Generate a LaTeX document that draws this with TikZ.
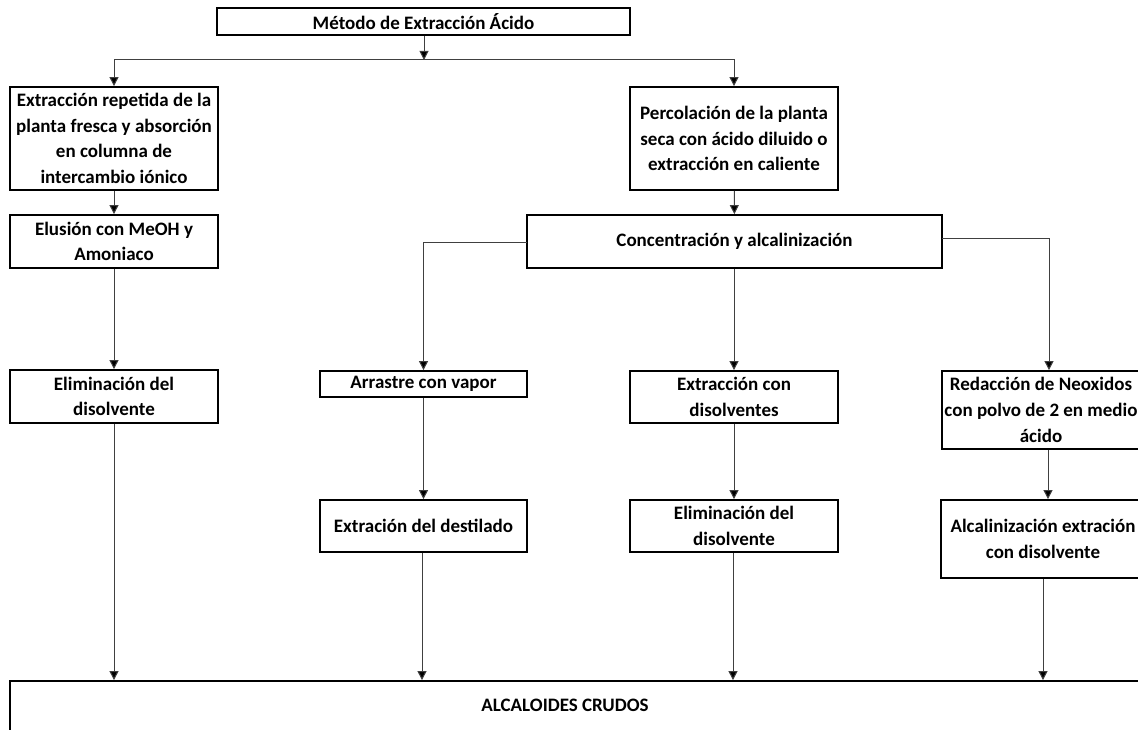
\documentclass[tikz,border=0pt]{standalone}
\usepackage{fontspec}
\setmainfont{Carlito}
\usetikzlibrary{arrows.meta}
\tikzset{
  box/.style={draw=black, line width=1.8pt, inner sep=0pt, align=center,
    font=\fontsize{19}{25.7}\selectfont\bfseries},
  txt/.style={inner sep=0pt, align=center, font=\fontsize{19}{25.7}\selectfont\bfseries},
  conn/.style={draw=black!75, line width=1pt},
  arr/.style={conn, -{Triangle[length=9pt,width=9pt,fill=black]}},
}
\begin{document}
\begin{tikzpicture}[x=1pt,y=-1pt]
\useasboundingbox (0,0) rectangle (1138,730);
\clip (0,0) rectangle (1138,730);
% boxes
\node[box, minimum width=413, minimum height=27] (top) at (423.5,21.5) {Método de Extracción Ácido};
\node[box, minimum width=208, minimum height=103] (b1) at (114,138.5) {Extracción repetida de la\\planta fresca y absorción\\en columna de\\intercambio iónico};
\node[box, minimum width=208, minimum height=53] (b2) at (114,241.5) {Elusión con MeOH y\\Amoniaco};
\node[box, minimum width=208, minimum height=53] (b3) at (114,396.5) {Eliminación del\\disolvente};
\node[box, minimum width=208, minimum height=103] (perc) at (734,138.5) {Percolación de la planta\\seca con ácido diluido o\\extracción en caliente};
\node[box, minimum width=415, minimum height=53] (conc) at (734.5,241.5) {Concentración y alcalinización};
\node[box, minimum width=207, minimum height=26] (arr) at (423.5,384) {Arrastre con vapor};
\node[box, minimum width=207, minimum height=52] (dest) at (423.5,526) {Extración del destilado};
\node[box, minimum width=208, minimum height=52] (exd) at (734,397) {Extracción con\\disolventes};
\node[box, minimum width=208, minimum height=52] (eld) at (734,526) {Eliminación del\\disolvente};
\node[box, minimum width=208, minimum height=78] (red) at (1046,410) {};
\node[txt] (redtxt) at (1041,410) {Redacción de Neoxidos\\con polvo de 2 en medio\\ácido};
\node[box, minimum width=208, minimum height=78] (alc) at (1045,539) {};
\node[txt] (alctxt) at (1043,539) {Alcalinización extración\\con disolvente};
\node[box, minimum width=1140, minimum height=64] (crudos) at (580,713) {};
\node[txt] (crudostxt) at (565,705) {ALCALOIDES CRUDOS};
% connectors
\coordinate (split) at (424,60);
\coordinate (cl) at (527,243);
\coordinate (cr) at (942,239);
\draw[arr] (top.south -| split) -- (split);
\draw[arr] (split) -| (b1.north);
\draw[arr] (split) -| (perc.north);
\draw[arr] (b1) -- (b2);
\draw[arr] (b2) -- (b3);
\draw[arr] (b3.south) -- (b3.south |- crudos.north);
\draw[arr] (perc) -- (conc);
\draw[arr] (cl) -| (arr.north);
\draw[arr] (exd.north |- conc.south) -- (exd.north);
\draw[arr] (cr) -| ([xshift=3pt]red.north);
\draw[arr] (arr) -- (dest);
\draw[arr] (exd) -- (eld);
\draw[arr] ([xshift=2pt]red.south) -- ([xshift=2pt]red.south |- alc.north);
\draw[arr] ([xshift=-1.5pt]dest.south) -- ([xshift=-1.5pt]dest.south |- crudos.north);
\draw[arr] ([xshift=-1pt]eld.south) -- ([xshift=-1pt]eld.south |- crudos.north);
\draw[arr] ([xshift=-2pt]alc.south) -- ([xshift=-2pt]alc.south |- crudos.north);
\end{tikzpicture}
\end{document}
